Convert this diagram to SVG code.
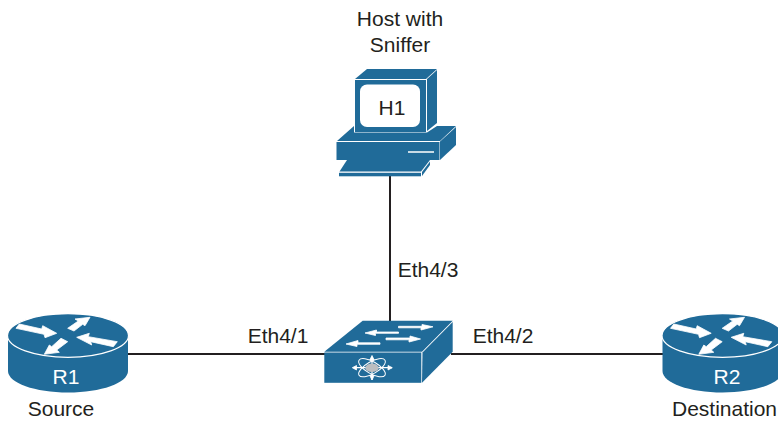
<svg xmlns="http://www.w3.org/2000/svg" width="778" height="421" viewBox="0 0 778 421">
<style>
text{font-family:"Liberation Sans",Arial,sans-serif;font-size:21px;fill:#231f20;text-anchor:middle}
text.w{fill:#fff}
.b{fill:#206b99}
.o{fill:#206b99;stroke:#fff;stroke-width:1.2;stroke-linejoin:round}
.a{fill:#fff;stroke:#fff;stroke-width:.8;stroke-linejoin:round}
.l{stroke:#231f20;stroke-width:2;fill:none}
.t{stroke:#fff;stroke-width:1;fill:none}
</style>
<defs>
<g id="router">
<path class="b" d="M8 336V371C8 383 35 392.500 68 392.500S128 383 128 371V336Z"/>
<ellipse class="o" cx="68" cy="335.500" rx="60.500" ry="21.800"/>
<path class="a" d="M16 328.300L19.300 324L41.700 329L42.700 325.700L56.700 333.300L45 337.700L44 334.300Z"/>
<path class="a" d="M67.700 328.300L78.300 321L75 319L90 317.300L85 325.700L82.700 324.300L74 331Z"/>
<path class="a" d="M61 338.300L67.700 341.700L56.700 350L59.300 352.300L44.300 354.300L49.300 345L51.700 346.700Z"/>
<path class="a" d="M76.700 337.300L89.300 333.300L88.300 336.700L117.300 341.700L113.300 346.700L90.700 341.700L91.700 345Z"/>
</g>
</defs>
<g id="connectors">
<path class="l" d="M390 176V321"/>
<path class="l" d="M128 354H325"/>
<path class="l" d="M451 354H664"/>
</g>
<g id="H1">
<path class="b" d="M355 79L367 69H437L426 79Z"/>
<path class="b" d="M427 79L437 70V123L427 131Z"/>
<rect class="b" x="355" y="80" width="71" height="52"/>
<rect x="360" y="84.500" width="60" height="42.500" rx="7" fill="#fff"/>
<path class="b" d="M354 126V132.500H427L437 126H456L440 141H337Z"/>
<rect class="b" x="336.500" y="142" width="103" height="18"/>
<path class="b" d="M440 141.500L456 127V145L440 160Z"/>
<path stroke="#fff" stroke-width="1.500" d="M408 152H434"/>
<path class="b" d="M347 160H430L421 171.500H339.500Z"/>
<rect class="b" x="339" y="172.800" width="82" height="3.500"/>
<path class="b" d="M422 172L430 161.500V165L422 176Z"/>
<text x="392" y="115">H1</text>
<text x="400" y="26">Host with</text>
<text x="400" y="52">Sniffer</text>
</g>
<g id="switch">
<path class="b" d="M324.300 351.700L362.700 320.700H452.700L422 351.700Z"/>
<rect class="b" x="324.300" y="352.500" width="97" height="30.300"/>
<path class="b" d="M422.500 352.500L452.700 322V351.700L422 382.700Z"/>
<g class="a">
<path d="M398.500 326.300H422V324.500L433 326.800L421 330V327.800H398.500Z"/>
<path d="M398.500 333.300H375.500V335.500L365 333L376.500 330V332H398.500Z"/>
<path d="M386 338H410V336L420.500 339L409 342V339.800H386Z"/>
<path d="M380 344.300H357V346.500L346 344L358 340.500V342.800H380Z"/>
</g>
<g class="t">
<ellipse cx="372" cy="367.700" rx="15" ry="6" transform="rotate(30 372 367.700)"/>
<ellipse cx="372" cy="367.700" rx="15" ry="6" transform="rotate(-30 372 367.700)"/>
</g>
<path stroke="#fff" stroke-width="1.200" d="M354 367.700H392M372 357V380"/>
<g class="a">
<path d="M352.300 367.700L356.500 365.500V370Z"/>
<path d="M392.300 367.700L388 365.500V370Z"/>
<path d="M372 355.500L369.800 360H374.200Z"/>
<path d="M372 380L369.800 375.500H374.200Z"/>
</g>
<ellipse cx="372" cy="367.700" rx="6.700" ry="4.300" fill="#bcbec0"/>
</g>
<g id="R1">
<use href="#router"/>
<text class="w" x="66" y="384">R1</text>
<text x="61" y="416">Source</text>
</g>
<g id="R2">
<use href="#router" x="654.500"/>
<text class="w" x="727" y="384">R2</text>
<text x="724.500" y="416">Destination</text>
</g>
<g id="labels">
<text x="428" y="277">Eth4/3</text>
<text x="278" y="343">Eth4/1</text>
<text x="503" y="343">Eth4/2</text>
</g>
</svg>
